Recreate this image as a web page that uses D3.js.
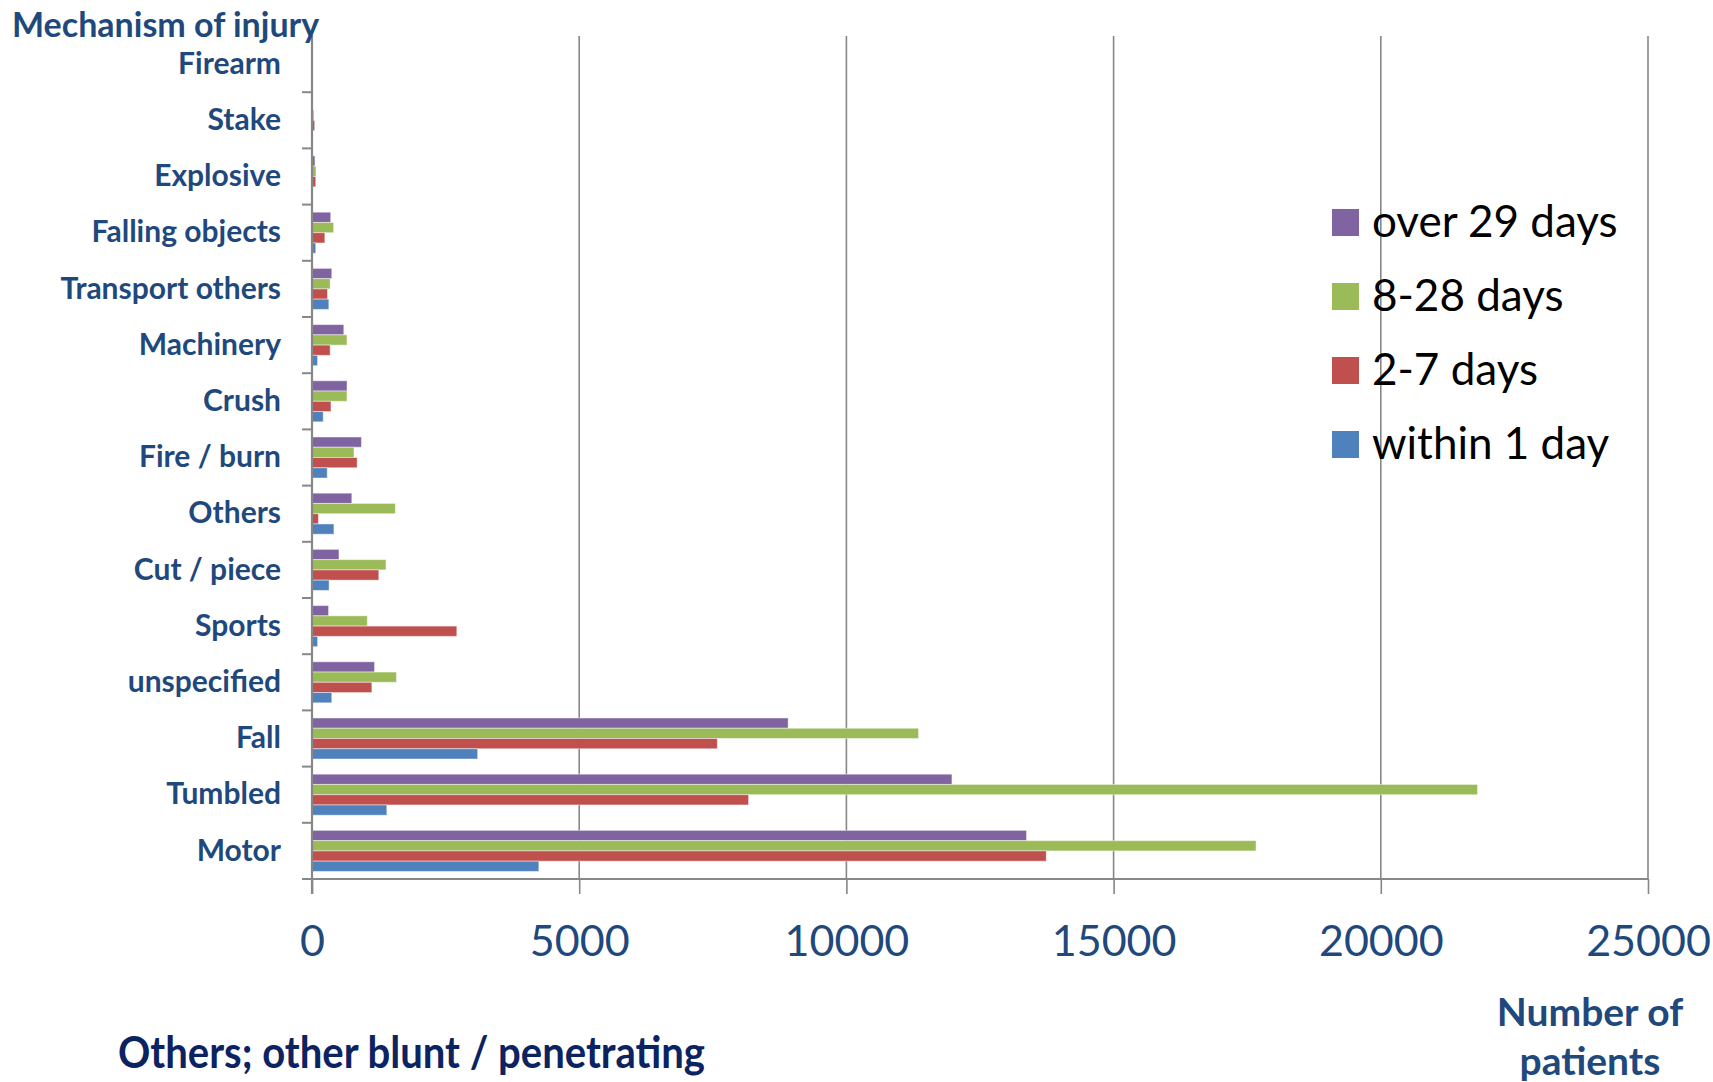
<!DOCTYPE html>
<html>
<head>
<meta charset="utf-8">
<script src="https://cdn.jsdelivr.net/npm/d3@7"></script>
<style>
  html, body { margin: 0; padding: 0; background: #ffffff; }
  svg { display: block; font-family: Lato, "Open Sans", sans-serif; }
</style>
</head>
<body>
<svg id="chart" width="1713" height="1082"></svg>
<script>
// ---- data (top-to-bottom order as shown) ----
const categories = ["Firearm", "Stake", "Explosive", "Falling objects", "Transport others",
  "Machinery", "Crush", "Fire / burn", "Others", "Cut / piece", "Sports", "unspecified",
  "Fall", "Tumbled", "Motor"];
const seriesNames = ["over 29 days", "8-28 days", "2-7 days", "within 1 day"];
const over29 = [0, 5, 55, 350, 370, 595, 655, 925, 745, 505, 310, 1170, 8910, 11975, 13370];
const days8to28 = [0, 35, 75, 405, 340, 655, 655, 785, 1560, 1385, 1035, 1580, 11350, 21810, 17665];
const days2to7 = [0, 50, 70, 240, 290, 340, 355, 845, 120, 1250, 2710, 1120, 7585, 8170, 13740];
const within1 = [0, 0, 0, 70, 315, 105, 210, 285, 410, 320, 105, 370, 3100, 1400, 4245];
const xTickValues = [0, 5000, 10000, 15000, 20000, 25000];
const yTitle = "Mechanism of injury";
const xTitleLines = ["Number of", "patients"];
const footNote = "Others; other blunt / penetrating";

const seriesValues = [over29, days8to28, days2to7, within1];
const colors = ["#8064A2", "#9BBB59", "#C0504D", "#4F81BD"];

const svg = d3.select("#chart");
const L = 312, R = 1648, T = 36, B = 879;
const labelColor = "#1F497D";
const gridColor = "#878787";

const x = d3.scaleLinear().domain([0, 25000]).range([L, R]);
const y0 = d3.scaleBand().domain(categories).range([T, B]).paddingInner(0.27).paddingOuter(0.135);
const y1 = d3.scaleBand().domain(seriesNames).range([0, y0.bandwidth()]);
const step = (B - T) / categories.length;

// gridlines
svg.append("g").selectAll("line")
  .data(xTickValues.filter(d => d > 0))
  .join("line")
  .attr("x1", d => x(d)).attr("x2", d => x(d))
  .attr("y1", T).attr("y2", B)
  .attr("stroke", gridColor).attr("stroke-width", 1.6);

// bars
const rows = [];
categories.forEach((c, i) => seriesNames.forEach((s, j) => rows.push({ c, s, j, v: seriesValues[j][i] })));
svg.append("g").selectAll("rect")
  .data(rows)
  .join("rect")
  .attr("x", x(0))
  .attr("y", d => y0(d.c) + y1(d.s))
  .attr("width", d => Math.max(0, x(d.v) - x(0)))
  .attr("height", y1.bandwidth())
  .attr("fill", d => colors[d.j])
  .attr("stroke", "rgba(255,255,255,0.45)")
  .attr("stroke-width", 1);

// x axis
const xAxis = svg.append("g")
  .attr("transform", `translate(0,${B})`)
  .call(d3.axisBottom(x).tickValues(xTickValues).tickSize(15).tickPadding(31).tickFormat(d3.format("d")));
xAxis.select(".domain").attr("stroke", gridColor).attr("stroke-width", 2.2)
  .attr("d", `M${L - 10},0H${R}`);
xAxis.selectAll(".tick line").attr("stroke", gridColor).attr("stroke-width", 1.6);
xAxis.selectAll(".tick text")
  .attr("fill", labelColor).attr("font-size", 43).attr("font-family", "Lato");

// y axis
const yAxis = svg.append("g")
  .attr("transform", `translate(${L},0)`)
  .call(d3.axisLeft(y0).tickSize(0).tickPadding(31));
yAxis.select(".domain").remove();
yAxis.selectAll(".tick text")
  .attr("fill", labelColor).attr("font-size", 30).attr("font-weight", "bold")
  .attr("font-family", "Lato");
svg.append("line")
  .attr("x1", L).attr("x2", L).attr("y1", T - 1).attr("y2", B + 15)
  .attr("stroke", gridColor).attr("stroke-width", 2.2);
svg.append("g").selectAll("line")
  .data(d3.range(1, categories.length))
  .join("line")
  .attr("x1", L - 10).attr("x2", L)
  .attr("y1", i => T + i * step).attr("y2", i => T + i * step)
  .attr("stroke", gridColor).attr("stroke-width", 2);

// titles
svg.append("text")
  .attr("x", 12).attr("y", 37)
  .attr("fill", labelColor).attr("font-size", 34).attr("font-weight", "bold")
  .text(yTitle);

svg.append("text")
  .attr("x", 1590).attr("text-anchor", "middle")
  .attr("fill", labelColor).attr("font-size", 39).attr("font-weight", "bold")
  .selectAll("tspan").data(xTitleLines).join("tspan")
  .attr("x", 1590).attr("y", (d, i) => 1026 + i * 49)
  .text(d => d);

svg.append("text")
  .attr("x", 118).attr("y", 1068)
  .attr("fill", "#0B2361").attr("font-size", 44).attr("font-weight", "bold")
  .attr("textLength", 587).attr("lengthAdjust", "spacingAndGlyphs")
  .text(footNote);

// legend
const legend = svg.append("g").selectAll("g")
  .data(seriesNames)
  .join("g")
  .attr("transform", (d, i) => `translate(1332,${222.5 + i * 74})`);
legend.append("rect")
  .attr("x", 0).attr("y", -13.5).attr("width", 27).attr("height", 27)
  .attr("fill", (d, i) => colors[i]);
legend.append("text")
  .attr("x", 40).attr("y", 14.5)
  .attr("fill", "#000").attr("font-size", 44)
  .text(d => d);
</script>
</body>
</html>
